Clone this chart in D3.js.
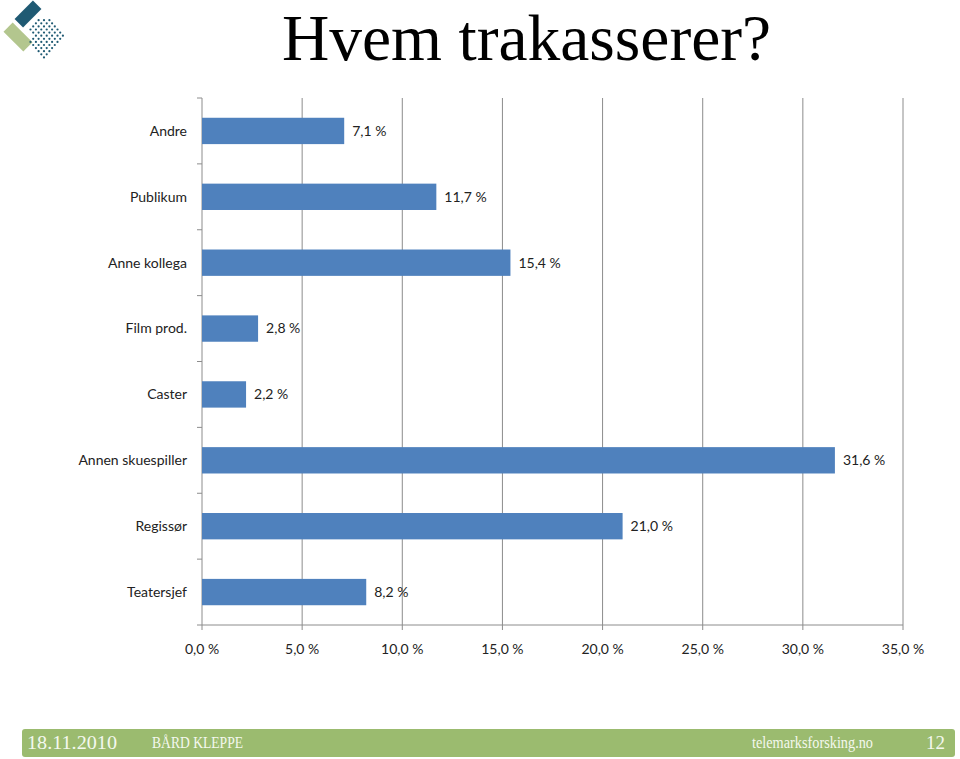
<!DOCTYPE html>
<html>
<head>
<meta charset="utf-8">
<script src="https://cdn.jsdelivr.net/npm/d3@7"></script>
<style>
  body { margin: 0; background: #fff; }
  svg { display: block; }
  .lbl { font-family: Lato, "Open Sans", sans-serif; font-size: 14px; fill: #222; }
</style>
</head>
<body>
<svg id="chart" width="960" height="759"></svg>
<script>
// data
const categories = ["Andre", "Publikum", "Anne kollega", "Film prod.", "Caster", "Annen skuespiller", "Regissør", "Teatersjef"];
const values = [7.1, 11.7, 15.4, 2.8, 2.2, 31.6, 21.0, 8.2];
const xTicks = [0, 5, 10, 15, 20, 25, 30, 35];
const title = "Hvem trakasserer?";
const footer = { date: "18.11.2010", author: "BÅRD KLEPPE", site: "telemarksforsking.no", page: "12" };

const fmt = v => d3.format(".1f")(v).replace(".", ",") + " %";

let svg = d3.select("#chart");
let margin = {left: 202, right: 57, top: 98, bottom: 134};
let width = 960 - margin.left - margin.right;
let height = 759 - margin.top - margin.bottom;

// logo
let logo = svg.append("g");
logo.append("rect").attr("x", -13).attr("y", -6).attr("width", 26).attr("height", 12)
  .attr("transform", "translate(28,14) rotate(-45)").attr("fill", "#1f5a73");
logo.append("rect").attr("x", -14).attr("y", -6.5).attr("width", 28).attr("height", 13)
  .attr("transform", "translate(18,37) rotate(45)").attr("fill", "#b3c68e");
for (let i = 0; i < 8; i++) {
  for (let j = 0; j < 8; j++) {
    if (i + j < 2 || (i < 2 && j > 5)) continue;
    let px = 47 + (i - j) * 2.7 - 3;
    let py = 14 + (i + j) * 3.1;
    logo.append("circle").attr("cx", px).attr("cy", py).attr("r", 1.1).attr("fill", "#1f5a73");
  }
}

// title
svg.append("text").attr("x", 282).attr("y", 60)
  .style("font-family", "'Liberation Serif', 'DejaVu Serif', serif")
  .style("font-size", "65.5px").attr("fill", "#000").text(title);

let g = svg.append("g").attr("transform", `translate(${margin.left},${margin.top})`);

let x = d3.scaleLinear().domain([0, 35]).range([0, width]);
let y = d3.scaleBand().domain(categories).range([0, height]).paddingInner(0.6).paddingOuter(0.3);
let yb = d3.scaleBand().domain(categories).range([0, height]);

// gridlines
g.selectAll(".grid").data(xTicks.slice(1)).enter().append("line")
  .attr("x1", d => x(d)).attr("x2", d => x(d))
  .attr("y1", 0).attr("y2", height + 5)
  .attr("stroke", "#8c8c8c").attr("stroke-width", 1);

// y axis line and ticks
g.append("line").attr("x1", 0).attr("x2", 0).attr("y1", 0).attr("y2", height + 5)
  .attr("stroke", "#8c8c8c");
g.selectAll(".ytick").data(categories).enter().append("line")
  .attr("x1", -5).attr("x2", 0)
  .attr("y1", d => yb(d)).attr("y2", d => yb(d))
  .attr("stroke", "#8c8c8c");
g.append("line").attr("x1", -5).attr("x2", width).attr("y1", height).attr("y2", height)
  .attr("stroke", "#8c8c8c");

// bars
g.selectAll(".bar").data(values).enter().append("rect")
  .attr("x", 0).attr("y", (d, i) => y(categories[i]))
  .attr("width", d => x(d)).attr("height", y.bandwidth())
  .attr("fill", "#4f81bd");

// value labels
g.selectAll(".val").data(values).enter().append("text").attr("class", "lbl")
  .attr("x", d => x(d) + 8).attr("y", (d, i) => y(categories[i]) + y.bandwidth() / 2)
  .attr("dy", "0.35em").text(d => fmt(d));

// category labels
g.selectAll(".cat").data(categories).enter().append("text").attr("class", "lbl")
  .attr("x", -15).attr("y", d => y(d) + y.bandwidth() / 2)
  .attr("dy", "0.35em").attr("text-anchor", "end").text(d => d);

// x tick labels
g.selectAll(".xl").data(xTicks).enter().append("text").attr("class", "lbl")
  .attr("x", d => x(d)).attr("y", height + 29).attr("text-anchor", "middle")
  .text(d => fmt(d));

// footer
svg.append("rect").attr("x", 22).attr("y", 729).attr("width", 933).attr("height", 28)
  .attr("rx", 3).attr("fill", "#9bbb6f");
let ff = "'Liberation Serif', 'DejaVu Serif', serif";
let ft = svg.append("g").style("font-family", ff).style("font-size", "17px").attr("fill", "#f4f8ee");
ft.append("text").attr("x", 27).attr("y", 749).style("font-size", "19px").attr("textLength", 90).attr("lengthAdjust", "spacingAndGlyphs").text(footer.date);
ft.append("text").attr("x", 152).attr("y", 748).attr("textLength", 91).attr("lengthAdjust", "spacingAndGlyphs").text(footer.author);
ft.append("text").attr("x", 752).attr("y", 748).attr("textLength", 121).attr("lengthAdjust", "spacingAndGlyphs").text(footer.site);
ft.append("text").attr("x", 945).attr("y", 749).attr("text-anchor", "end").style("font-size", "19px").text(footer.page);
</script>
</body>
</html>
